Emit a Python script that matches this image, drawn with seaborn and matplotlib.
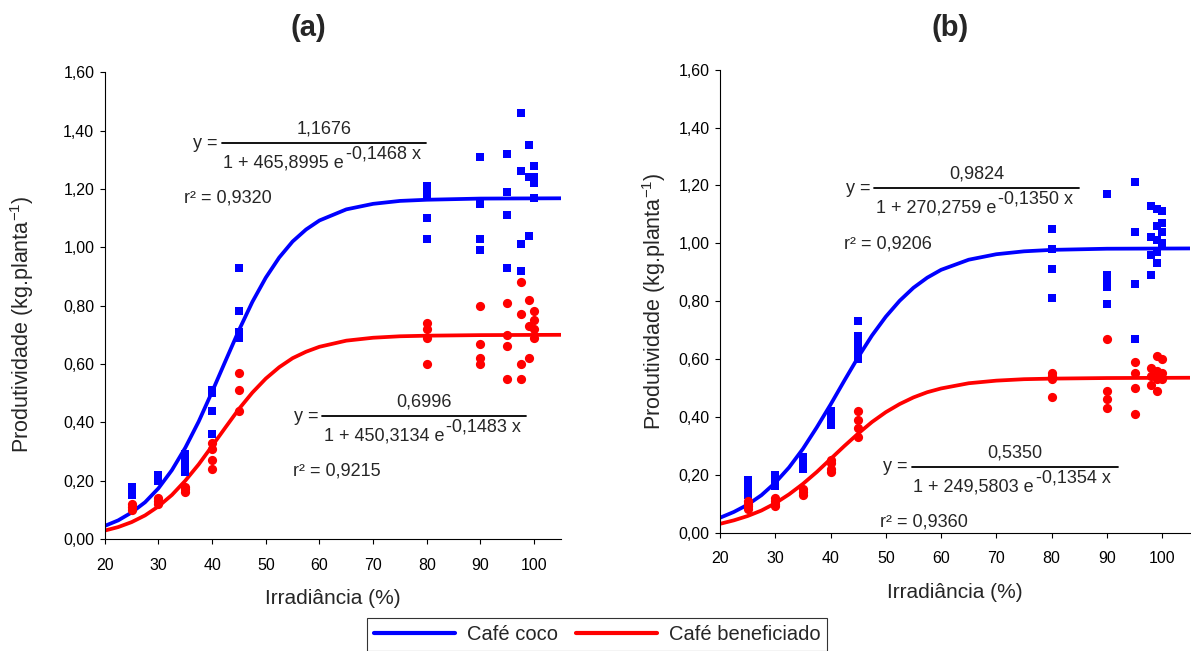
import matplotlib
matplotlib.use("Agg")
import matplotlib.pyplot as plt
from matplotlib.ticker import FuncFormatter
from matplotlib.lines import Line2D
import seaborn as sns

# pontos observados - painel (a)
a_coco_x = [25, 25, 25, 25, 30, 30, 30, 35, 35, 35, 35, 40, 40, 40, 40, 45, 45, 45, 45,
            80, 80, 80, 80, 80, 90, 90, 90, 90, 95, 95, 95, 95, 97.5, 97.5, 97.5, 97.5,
            99, 99, 99, 100, 100, 100, 100]
a_coco_y = [0.15, 0.16, 0.17, 0.18, 0.20, 0.21, 0.22, 0.23, 0.25, 0.27, 0.29, 0.36, 0.44, 0.50, 0.51,
            0.69, 0.71, 0.78, 0.93, 1.03, 1.10, 1.18, 1.20, 1.21, 0.99, 1.03, 1.15, 1.31,
            0.93, 1.11, 1.19, 1.32, 0.92, 1.01, 1.26, 1.46, 1.04, 1.24, 1.35, 1.17, 1.22, 1.24, 1.28]
a_benef_x = [25, 25, 25, 30, 30, 30, 35, 35, 35, 40, 40, 40, 40, 45, 45, 45,
             80, 80, 80, 80, 90, 90, 90, 90, 95, 95, 95, 95, 97.5, 97.5, 97.5, 97.5,
             99, 99, 99, 100, 100, 100, 100]
a_benef_y = [0.10, 0.11, 0.12, 0.12, 0.13, 0.14, 0.16, 0.17, 0.18, 0.24, 0.27, 0.31, 0.33, 0.44, 0.51, 0.57,
             0.60, 0.69, 0.72, 0.74, 0.60, 0.62, 0.67, 0.80, 0.55, 0.66, 0.70, 0.81,
             0.55, 0.60, 0.77, 0.88, 0.62, 0.73, 0.82, 0.69, 0.72, 0.75, 0.78]

# pontos observados - painel (b)
b_coco_x = [25, 25, 25, 25, 25, 25, 30, 30, 30, 30, 30, 35, 35, 35, 35, 35,
            40, 40, 40, 40, 40, 40, 45, 45, 45, 45, 45, 45, 80, 80, 80, 80,
            90, 90, 90, 90, 90, 95, 95, 95, 95, 98, 98, 98, 98, 99, 99, 99, 99, 99,
            100, 100, 100, 100]
b_coco_y = [0.13, 0.14, 0.15, 0.16, 0.17, 0.18, 0.16, 0.17, 0.18, 0.19, 0.20, 0.22, 0.23, 0.24, 0.25, 0.26,
            0.37, 0.38, 0.39, 0.40, 0.41, 0.42, 0.60, 0.62, 0.64, 0.66, 0.68, 0.73, 0.81, 0.91, 0.98, 1.05,
            0.79, 0.85, 0.87, 0.89, 1.17, 0.67, 0.86, 1.04, 1.21, 0.89, 0.96, 1.02, 1.13,
            0.93, 0.97, 1.01, 1.06, 1.12, 1.00, 1.04, 1.07, 1.11]
b_benef_x = [25, 25, 25, 25, 30, 30, 30, 30, 35, 35, 35, 40, 40, 40, 40, 45, 45, 45, 45,
             80, 80, 80, 80, 90, 90, 90, 90, 95, 95, 95, 95, 98, 98, 98, 99, 99, 99, 99,
             100, 100, 100]
b_benef_y = [0.08, 0.09, 0.10, 0.11, 0.09, 0.10, 0.11, 0.12, 0.13, 0.14, 0.15, 0.21, 0.22, 0.24, 0.25,
             0.33, 0.36, 0.39, 0.42, 0.47, 0.53, 0.54, 0.55, 0.43, 0.46, 0.49, 0.67,
             0.41, 0.50, 0.55, 0.59, 0.51, 0.54, 0.57, 0.49, 0.53, 0.56, 0.61, 0.53, 0.55, 0.60]

# curvas ajustadas
curve_x = [20, 22.5, 25, 27.5, 30, 32.5, 35, 37.5, 40, 42.5, 45, 47.5, 50, 52.5, 55, 57.5,
           60, 65, 70, 75, 80, 90, 105]
a_coco_fit = [0.045, 0.064, 0.091, 0.126, 0.174, 0.236, 0.313, 0.403, 0.505, 0.611, 0.716, 0.813,
              0.896, 0.965, 1.020, 1.061, 1.092, 1.130, 1.149, 1.159, 1.163, 1.167, 1.168]
a_benef_fit = [0.029, 0.041, 0.058, 0.081, 0.112, 0.151, 0.200, 0.256, 0.319, 0.383, 0.446, 0.502,
               0.550, 0.589, 0.620, 0.642, 0.659, 0.680, 0.690, 0.695, 0.697, 0.699, 0.700]
b_coco_fit = [0.051, 0.071, 0.096, 0.129, 0.172, 0.225, 0.289, 0.363, 0.442, 0.525, 0.606, 0.681,
              0.746, 0.801, 0.846, 0.881, 0.908, 0.943, 0.962, 0.972, 0.977, 0.981, 0.982]
b_benef_fit = [0.030, 0.042, 0.057, 0.076, 0.101, 0.132, 0.168, 0.209, 0.254, 0.299, 0.342, 0.382,
               0.416, 0.444, 0.467, 0.485, 0.498, 0.516, 0.525, 0.530, 0.532, 0.534, 0.535]

x_ticks = [20, 30, 40, 50, 60, 70, 80, 90, 100]
y_ticks = [0.0, 0.2, 0.4, 0.6, 0.8, 1.0, 1.2, 1.4, 1.6]

blue = "#0000ff"
red = "#ff0000"

sns.set_style("ticks")
plt.rcParams["font.family"] = ["Liberation Sans", "DejaVu Sans"]
plt.rcParams["mathtext.default"] = "regular"

fig = plt.figure(figsize=(11.91, 6.51), dpi=100)
ax_a = fig.add_axes([0.088, 0.172, 0.383, 0.717])
ax_b = fig.add_axes([0.6045, 0.182, 0.3945, 0.711])

comma = FuncFormatter(lambda v, p: f"{v:.2f}".replace(".", ","))


def draw_panel(ax, cx, cy, bx, by, fit_c, fit_b, ylab_x, ylab_y):
    sns.lineplot(x=curve_x, y=fit_c, ax=ax, color=blue, lw=2.7, zorder=2)
    sns.lineplot(x=curve_x, y=fit_b, ax=ax, color=red, lw=2.7, zorder=2)
    sns.scatterplot(x=cx, y=cy, ax=ax, color=blue, marker="s", s=36, linewidth=0, zorder=3)
    sns.scatterplot(x=bx, y=by, ax=ax, color=red, marker="o", s=44, linewidth=0, zorder=3)
    ax.set_xlim(20, 105)
    ax.set_ylim(0, 1.6)
    ax.set_xticks(x_ticks)
    ax.set_yticks(y_ticks)
    ax.yaxis.set_major_formatter(comma)
    ax.tick_params(labelsize=11.5, length=3.6, width=0.8, colors="black")
    ax.tick_params(axis="x", pad=10)
    ax.tick_params(axis="y", pad=4)
    for s in ("top", "right"):
        ax.spines[s].set_visible(False)
    for s in ("left", "bottom"):
        ax.spines[s].set_linewidth(0.8)
        ax.spines[s].set_color("black")
    ax.set_xlabel("Irradiância (%)", fontsize=15)
    ax.set_ylabel("Produtividade (kg.planta$^{-1}$)", fontsize=15.5)
    ax.xaxis.set_label_coords(0.5, -0.108)
    ax.yaxis.set_label_coords(ylab_x, ylab_y)


def equation(ax, x0, x1, yline, num, den, sup, r2, r2_dx, r2_dy):
    # fracao: linha em coordenadas de dados, textos deslocados em pixels
    ax.plot([x0, x1], [yline, yline], color="black", lw=1.3)
    kw = dict(textcoords="offset pixels", fontsize=13, va="center")
    ax.annotate("y =", (x0, yline), xytext=(-4, 0), ha="right", **kw)
    ax.annotate(num, ((x0 + x1) / 2, yline), xytext=(0, 14), ha="center", **kw)
    ax.annotate(den, (x0, yline), xytext=(122, -20), ha="right", **kw)
    ax.annotate(sup, (x0, yline), xytext=(124, -11), ha="left", **kw)
    ax.annotate(r2, (x0, yline), xytext=(r2_dx, r2_dy), ha="left", **kw)


draw_panel(ax_a, a_coco_x, a_coco_y, a_benef_x, a_benef_y, a_coco_fit, a_benef_fit, -0.15, 0.46)
draw_panel(ax_b, b_coco_x, b_coco_y, b_benef_x, b_benef_y, b_coco_fit, b_benef_fit, -0.11, 0.5)

equation(ax_a, 41.8, 79.9, 1.356, "1,1676", "1 + 465,8995 e", "-0,1468 x", "r² = 0,9320", -38, -55)
equation(ax_a, 60.5, 98.5, 0.421, "0,6996", "1 + 450,3134 e", "-0,1483 x", "r² = 0,9215", -29, -55)
equation(ax_b, 47.9, 84.9, 1.190, "0,9824", "1 + 270,2759 e", "-0,1350 x", "r² = 0,9206", -30, -56)
equation(ax_b, 54.7, 92.0, 0.227, "0,5350", "1 + 249,5803 e", "-0,1354 x", "r² = 0,9360", -32, -55)

fig.text(308 / 1191, 1 - 28 / 651, "(a)", ha="center", va="center", fontsize=21, fontweight="bold")
fig.text(950 / 1191, 1 - 28 / 651, "(b)", ha="center", va="center", fontsize=21, fontweight="bold")

handles = [Line2D([], [], color=blue, lw=3), Line2D([], [], color=red, lw=3)]
leg = fig.legend(handles, ["Café coco", "Café beneficiado"], loc="lower center",
                 bbox_to_anchor=(0.5015, 0.0), ncol=2, fontsize=14.5, frameon=True,
                 fancybox=False, handlelength=4.0, handletextpad=0.6, columnspacing=0.9,
                 borderpad=0.35, borderaxespad=0.0)
leg.get_frame().set_edgecolor("black")
leg.get_frame().set_linewidth(0.8)

fig.savefig("out.png", dpi=100)
